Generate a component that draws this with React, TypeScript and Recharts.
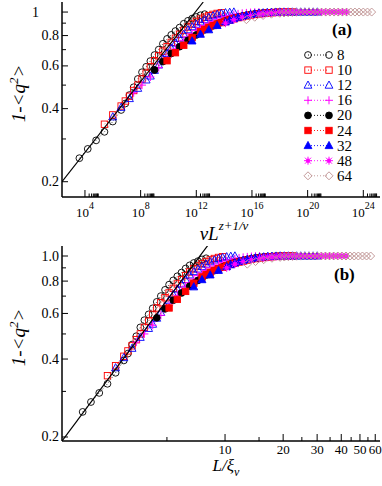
import { ScatterChart, Scatter, XAxis, YAxis, Legend } from 'recharts';

const FONT = 'Liberation Serif, Times New Roman, serif';

// system sizes L
const sizes = ['8', '10', '12', '16', '20', '24', '32', '48', '64'];

// panel (a): x = vL^{z+1/v}, kept as log10 exponents
const expA8 = [3.6, 4.2, 4.8, 5.4, 6.0, 6.6, 6.9, 7.2, 7.5, 7.8, 8.1, 8.4, 8.7, 9.0, 9.3, 9.6, 9.9, 10.2, 10.5, 10.8, 11.1, 11.4, 11.7, 12.0, 12.3, 12.6];
const expA10 = [5.4, 6.0, 6.6, 6.9, 7.2, 7.5, 7.8, 8.1, 8.4, 8.7, 9.0, 9.3, 9.6, 9.9, 10.2, 10.5, 10.8, 11.1, 11.4, 11.7, 12.0, 12.3, 12.6, 12.9, 13.2, 13.5, 13.8];
const expA12 = [6.0, 6.6, 7.2, 7.8, 8.4, 8.7, 9.0, 9.3, 9.6, 9.9, 10.2, 10.5, 10.8, 11.1, 11.4, 11.7, 12.0, 12.3, 12.6, 12.9, 13.2, 13.5, 13.8, 14.1, 14.4, 14.7];
const expA16 = [7.5, 8.1, 8.7, 9.3, 9.9, 10.2, 10.5, 10.8, 11.1, 11.4, 11.7, 12.0, 12.3, 12.6, 12.9, 13.2, 13.5, 13.8, 14.1, 14.4, 14.7, 15.0, 15.3, 15.6, 15.9, 16.2, 16.5];
const expA20 = [9.0, 9.6, 10.2, 10.8, 11.4, 11.7, 12.0, 12.3, 12.6, 12.9, 13.2, 13.5, 13.8, 14.1, 14.4, 14.7, 15.0, 15.3, 15.6, 15.9, 16.2, 16.5, 16.8, 17.1, 17.4, 17.7, 18.0];
const expA24 = [9.9, 10.5, 11.1, 11.7, 12.3, 12.6, 12.9, 13.2, 13.5, 13.8, 14.1, 14.4, 14.7, 15.0, 15.3, 15.6, 15.9, 16.2, 16.5, 16.8, 17.1, 17.4, 17.7, 18.0, 18.3, 18.6, 18.9];
const expA32 = [11.7, 12.3, 12.9, 13.5, 14.1, 14.4, 14.7, 15.0, 15.3, 15.6, 15.9, 16.2, 16.5, 16.8, 17.1, 17.4, 17.7, 18.0, 18.3, 18.6, 18.9, 19.2, 19.5, 19.8, 20.1, 20.4, 20.7];
const expA48 = [14.1, 14.7, 15.3, 15.9, 16.5, 16.8, 17.1, 17.4, 17.7, 18.0, 18.3, 18.6, 18.9, 19.2, 19.5, 19.8, 20.1, 20.4, 20.7, 21.0, 21.3, 21.6, 21.9, 22.2, 22.5, 22.8];
const expA64 = [15.6, 16.2, 16.8, 17.4, 18.0, 18.3, 18.6, 18.9, 19.2, 19.5, 19.8, 20.1, 20.4, 20.7, 21.0, 21.3, 21.6, 21.9, 22.2, 22.5, 22.8, 23.1, 23.4, 23.7, 24.0, 24.3, 24.6];

// panel (b): x = L/xi_v
const xB8 = [1.83, 2.02, 2.23, 2.46, 2.71, 2.99, 3.14, 3.30, 3.47, 3.64, 3.82, 4.02, 4.22, 4.43, 4.65, 4.89, 5.13, 5.39, 5.66, 5.95, 6.25, 6.56, 6.89, 7.24, 7.60, 7.98];
const xB10 = [2.46, 2.71, 2.99, 3.14, 3.30, 3.47, 3.64, 3.82, 4.02, 4.22, 4.43, 4.65, 4.89, 5.13, 5.39, 5.66, 5.95, 6.25, 6.56, 6.89, 7.24, 7.60, 7.98, 8.38, 8.80, 9.25, 9.71];
const xB12 = [2.71, 2.99, 3.30, 3.64, 4.02, 4.22, 4.43, 4.65, 4.89, 5.13, 5.39, 5.66, 5.95, 6.25, 6.56, 6.89, 7.24, 7.60, 7.98, 8.38, 8.80, 9.25, 9.71, 10.20, 10.71, 11.25];
const xB16 = [3.47, 3.82, 4.22, 4.65, 5.13, 5.39, 5.66, 5.95, 6.25, 6.56, 6.89, 7.24, 7.60, 7.98, 8.38, 8.80, 9.25, 9.71, 10.20, 10.71, 11.25, 11.82, 12.41, 13.04, 13.69, 14.38, 15.10];
const xB20 = [4.43, 4.89, 5.39, 5.95, 6.56, 6.89, 7.24, 7.60, 7.98, 8.38, 8.80, 9.25, 9.71, 10.20, 10.71, 11.25, 11.82, 12.41, 13.04, 13.69, 14.38, 15.10, 15.86, 16.66, 17.50, 18.38, 19.30];
const xB24 = [5.13, 5.66, 6.25, 6.89, 7.60, 7.98, 8.38, 8.80, 9.25, 9.71, 10.20, 10.71, 11.25, 11.82, 12.41, 13.04, 13.69, 14.38, 15.10, 15.86, 16.66, 17.50, 18.38, 19.30, 20.27, 21.29, 22.36];
const xB32 = [6.89, 7.60, 8.38, 9.25, 10.20, 10.71, 11.25, 11.82, 12.41, 13.04, 13.69, 14.38, 15.10, 15.86, 16.66, 17.50, 18.38, 19.30, 20.27, 21.29, 22.36, 23.49, 24.67, 25.91, 27.21, 28.58, 30.02];
const xB48 = [10.20, 11.25, 12.41, 13.69, 15.10, 15.86, 16.66, 17.50, 18.38, 19.30, 20.27, 21.29, 22.36, 23.49, 24.67, 25.91, 27.21, 28.58, 30.02, 31.53, 33.11, 34.78, 36.53, 38.37, 40.30, 42.32];
const xB64 = [13.04, 14.38, 15.86, 17.50, 19.30, 20.27, 21.29, 22.36, 23.49, 24.67, 25.91, 27.21, 28.58, 30.02, 31.53, 33.11, 34.78, 36.53, 38.37, 40.30, 42.32, 44.45, 46.69, 49.04, 51.50, 54.09, 56.81];

// 1-<q^2>, same points in both panels
const y8 = [0.25, 0.273, 0.296, 0.321, 0.354, 0.395, 0.42, 0.455, 0.49, 0.53, 0.565, 0.595, 0.628, 0.665, 0.70, 0.74, 0.775, 0.805, 0.835, 0.863, 0.895, 0.92, 0.94, 0.955, 0.97, 0.98];
const y10 = [0.345, 0.377, 0.41, 0.43, 0.45, 0.475, 0.50, 0.53, 0.56, 0.595, 0.63, 0.66, 0.69, 0.72, 0.75, 0.78, 0.81, 0.84, 0.868, 0.893, 0.915, 0.935, 0.952, 0.966, 0.978, 0.987, 0.993];
const y12 = [0.37, 0.405, 0.44, 0.485, 0.525, 0.545, 0.575, 0.605, 0.64, 0.675, 0.71, 0.745, 0.78, 0.81, 0.845, 0.87, 0.89, 0.91, 0.93, 0.95, 0.965, 0.978, 0.987, 0.993, 0.997, 1.0];
const y16 = [0.465, 0.5, 0.54, 0.59, 0.645, 0.675, 0.705, 0.735, 0.765, 0.79, 0.815, 0.84, 0.86, 0.88, 0.9, 0.915, 0.93, 0.945, 0.957, 0.967, 0.976, 0.983, 0.988, 0.992, 0.995, 0.998, 1.0];
const y20 = [0.577, 0.625, 0.675, 0.72, 0.765, 0.785, 0.805, 0.825, 0.845, 0.862, 0.878, 0.893, 0.907, 0.92, 0.932, 0.943, 0.953, 0.962, 0.97, 0.977, 0.983, 0.988, 0.992, 0.995, 0.997, 0.999, 1.0];
const y24 = [0.63, 0.68, 0.73, 0.785, 0.83, 0.848, 0.865, 0.88, 0.893, 0.905, 0.917, 0.928, 0.938, 0.948, 0.956, 0.964, 0.971, 0.977, 0.982, 0.987, 0.991, 0.994, 0.996, 0.998, 0.999, 1.0, 1.0];
const y32 = [0.76, 0.81, 0.845, 0.88, 0.91, 0.925, 0.94, 0.952, 0.962, 0.97, 0.977, 0.983, 0.988, 0.992, 0.995, 0.997, 0.999, 1, 1, 1, 1, 1, 1, 1, 1, 1, 1];
const y48 = [0.9, 0.93, 0.952, 0.968, 0.98, 0.985, 0.989, 0.992, 0.995, 0.997, 0.998, 0.999, 1, 1, 1, 1, 1, 1, 1, 1, 1, 1, 1, 1, 1, 1];
const y64 = [0.93, 0.952, 0.968, 0.98, 0.988, 0.991, 0.994, 0.996, 0.998, 0.999, 1, 1, 1, 1, 1, 1, 1, 1, 1, 1, 1, 1, 1, 1, 1, 1, 1];

// black power-law guide lines
const fitAExp = [2.35, 12.5];
const fitAY = [0.2, 1.1];
const fitBX = [1.43, 8.15];
const fitBY = [0.193, 1.1];

// ticks
const yTicks = [0.2, 0.3, 0.4, 0.5, 0.6, 0.7, 0.8, 0.9, 1];
const majorExpA = [4, 8, 12, 16, 20, 24];
const ticksB = [5, 10, 15, 20, 25, 30, 35, 40, 45, 50, 55, 60];

const ticksA = majorExpA.flatMap(p => [1, 2, 3, 4, 5, 6, 7, 8, 9].map(m => m * 10 ** p));

const styles = [
  { color: '#000000', kind: 'circle', filled: false },
  { color: '#ff0000', kind: 'square', filled: false },
  { color: '#0000ff', kind: 'triangle', filled: false },
  { color: '#ff00ff', kind: 'plus', filled: false },
  { color: '#000000', kind: 'circle', filled: true },
  { color: '#ff0000', kind: 'square', filled: true },
  { color: '#0000ff', kind: 'triangle', filled: true },
  { color: '#ff00ff', kind: 'star', filled: true },
  { color: '#bc8f8f', kind: 'diamond', filled: false },
];

const expA = [expA8, expA10, expA12, expA16, expA20, expA24, expA32, expA48, expA64];
const xB = [xB8, xB10, xB12, xB16, xB20, xB24, xB32, xB48, xB64];
const ys = [y8, y10, y12, y16, y20, y24, y32, y48, y64];

const series = sizes.map((name, i) => ({
  name,
  ...styles[i],
  a: expA[i].map((e, j) => ({ x: 10 ** e, y: ys[i][j] })),
  b: xB[i].map((x, j) => ({ x, y: ys[i][j] })),
}));

const fitA = fitAExp.map((e, j) => ({ x: 10 ** e, y: fitAY[j] }));
const fitB = fitBX.map((x, j) => ({ x, y: fitBY[j] }));

const axisStyle = { stroke: '#000', strokeWidth: 1.5 };
const frameStyle = { stroke: '#777', strokeWidth: 1.2 };

function Marker({ cx, cy, kind, filled, color }: any) {
  if (cx == null || cy == null) return <g />;
  const fill = filled ? color : 'none';
  const sw = 0.9;
  switch (kind) {
    case 'circle':
      return <circle cx={cx} cy={cy} r={3.4} fill={fill} stroke={color} strokeWidth={sw} />;
    case 'square':
      return <rect x={cx - 3.2} y={cy - 3.2} width={6.4} height={6.4} fill={fill} stroke={color} strokeWidth={sw} />;
    case 'triangle':
      return <polygon points={`${cx},${cy - 4.2} ${cx - 3.9},${cy + 3} ${cx + 3.9},${cy + 3}`} fill={fill} stroke={color} strokeWidth={sw} />;
    case 'plus':
      return <path d={`M${cx - 4},${cy}H${cx + 4}M${cx},${cy - 4}V${cy + 4}`} stroke={color} strokeWidth={1} />;
    case 'star':
      return (
        <g stroke={color} strokeWidth={1}>
          <path d={`M${cx - 4},${cy}H${cx + 4}M${cx},${cy - 4}V${cy + 4}M${cx - 3},${cy - 3}L${cx + 3},${cy + 3}M${cx - 3},${cy + 3}L${cx + 3},${cy - 3}`} />
          <circle cx={cx} cy={cy} r={1.6} fill={color} />
        </g>
      );
    case 'diamond':
      return <polygon points={`${cx},${cy - 4} ${cx + 4},${cy} ${cx},${cy + 4} ${cx - 4},${cy}`} fill={fill} stroke={color} strokeWidth={sw} />;
    default:
      return <g />;
  }
}

function TickA(props: any) {
  const { x, y, payload } = props;
  const p = Math.log10(payload.value);
  const major = Math.abs(p - Math.round(p)) < 1e-6 && majorExpA.includes(Math.round(p));
  return (
    <g>
      <line x1={x} x2={x} y1={y} y2={y - (major ? 7 : 3.5)} stroke="#000" strokeWidth={1} />
      {major && (
        <text x={x} y={y + 20} textAnchor="middle" fontSize={13} fontFamily={FONT} fill="#000">
          10<tspan dy={-8} fontSize={10}>{Math.round(p)}</tspan>
        </text>
      )}
    </g>
  );
}

function TickB(props: any) {
  const { x, y, payload } = props;
  const v = payload.value;
  const major = v % 10 === 0;
  return (
    <g>
      <line x1={x} x2={x} y1={y} y2={y - (major ? 7 : 4)} stroke="#000" strokeWidth={1} />
      {major && (
        <text x={x} y={y + 12.5} textAnchor="middle" fontSize={13} fontFamily={FONT} fill="#000">
          {v}
        </text>
      )}
    </g>
  );
}

function YTick(props: any) {
  const { x, y, payload, one } = props;
  const v = payload.value;
  const major = Math.abs(v * 5 - Math.round(v * 5)) < 1e-6;
  const label = v === 1 ? one : v.toFixed(1);
  const shift = v === 1 && one === '1' ? 20 : 0;
  return (
    <g>
      <line x1={x} x2={x + (major ? 6 : 4)} y1={y} y2={y} stroke="#000" strokeWidth={1} />
      {major && (
        <text x={x - 3 - shift} y={y + 4.5} textAnchor="end" fontSize={14} fontFamily={FONT} fill="#000">
          {label}
        </text>
      )}
    </g>
  );
}

function YTitle(props: any) {
  const vb = props.viewBox || { x: 0, y: 0, width: 62, height: 195 };
  const cx = vb.x + 25;
  const cy = vb.y + vb.height / 2 - 6;
  return (
    <text transform={`rotate(-90 ${cx} ${cy})`} x={cx} y={cy} textAnchor="middle" fontStyle="italic" fontSize={19} fontFamily={FONT} fill="#000">
      1-&lt;q<tspan dy={-7} fontSize={13}>2</tspan><tspan dy={7}>&gt;</tspan>
    </text>
  );
}

function XTitleA(props: any) {
  const vb = props.viewBox || { x: 62, y: 197, width: 318, height: 49 };
  return (
    <text x={vb.x + vb.width / 2 + 3} y={vb.y + 43} textAnchor="middle" fontStyle="italic" fontSize={19} fontFamily={FONT} fill="#000">
      νL<tspan dy={-10} fontSize={13}>z+1/ν</tspan>
    </text>
  );
}

function XTitleB(props: any) {
  const vb = props.viewBox || { x: 62, y: 441, width: 318, height: 45 };
  return (
    <text x={vb.x + vb.width / 2 + 5} y={vb.y + 30} textAnchor="middle" fontStyle="italic" fontSize={17} fontFamily={FONT} fill="#000">
      L/ξ<tspan dy={5} fontSize={12}>ν</tspan>
    </text>
  );
}

function LegendA() {
  return (
    <svg width={82} height={140} style={{ display: 'block' }}>
      {series.map((s, i) => {
        const cy = 8 + i * 15.1;
        return (
          <g key={s.name}>
            <line x1={8} x2={29} y1={cy} y2={cy} stroke={s.color} strokeWidth={0.9} strokeDasharray="1 2" />
            <Marker cx={8} cy={cy} kind={s.kind} filled={s.filled} color={s.color} />
            <Marker cx={29} cy={cy} kind={s.kind} filled={s.filled} color={s.color} />
            <text x={37} y={cy + 5} fontSize={15} fontFamily={FONT} fill="#000">{s.name}</text>
          </g>
        );
      })}
    </svg>
  );
}

function Panel({ which }: { which: 'a' | 'b' }) {
  const isA = which === 'a';
  return (
    <ScatterChart
      width={382}
      height={246}
      margin={{ top: isA ? 2 : 6, right: 2, bottom: 0, left: 0 }}
    >
      <XAxis
        xAxisId="bottom"
        type="number"
        dataKey="x"
        scale="log"
        domain={isA ? [10 ** 2.35, 10 ** 25.2] : [1.43, 63.5]}
        allowDataOverflow
        ticks={isA ? ticksA : ticksB}
        interval={0}
        tickSize={0}
        tickMargin={0}
        tickLine={false}
        tick={isA ? <TickA /> : <TickB />}
        axisLine={axisStyle}
        height={isA ? 49 : 45}
        label={isA ? <XTitleA /> : <XTitleB />}
      />
      <XAxis xAxisId="top" orientation="top" type="number" domain={[0, 1]} height={0} tick={false} tickLine={false} axisLine={frameStyle} />
      <YAxis
        yAxisId="left"
        type="number"
        dataKey="y"
        scale="log"
        domain={isA ? [0.173, 1.1] : [0.193, 1.093]}
        allowDataOverflow
        ticks={yTicks}
        interval={0}
        tickSize={0}
        tickMargin={0}
        tickLine={false}
        tick={<YTick one={isA ? '1' : '1.0'} />}
        axisLine={axisStyle}
        width={62}
        label={<YTitle />}
      />
      <YAxis yAxisId="right" orientation="right" type="number" domain={[0, 1]} width={0} tick={false} tickLine={false} axisLine={frameStyle} />
      {series.map(s => (
        <Scatter
          key={s.name}
          name={s.name}
          xAxisId="bottom"
          yAxisId="left"
          data={isA ? s.a : s.b}
          isAnimationActive={false}
          line={{ stroke: s.color, strokeWidth: 0.8, strokeDasharray: '1 2' }}
          lineType="joint"
          shape={(p: any) => <Marker cx={p.cx} cy={p.cy} kind={s.kind} filled={s.filled} color={s.color} />}
        />
      ))}
      <Scatter
        name="fit"
        xAxisId="bottom"
        yAxisId="left"
        data={isA ? fitA : fitB}
        isAnimationActive={false}
        line={{ stroke: '#000', strokeWidth: 1.2 }}
        lineType="joint"
        shape={() => <g />}
      />
      {isA && (
        <Legend
          layout="vertical"
          align="center"
          verticalAlign="middle"
          wrapperStyle={{ left: 300, top: 47, width: 82 }}
          content={() => <LegendA />}
        />
      )}
    </ScatterChart>
  );
}

const tagStyle = {
  position: 'absolute' as const,
  zIndex: 10,
  fontFamily: FONT,
  fontWeight: 'bold' as const,
  fontSize: 17,
  lineHeight: '20px',
  color: '#000',
};

export default function App() {
  return (
    <div style={{ position: 'absolute', left: 0, top: 0, width: 382, height: 486, background: '#fff' }}>
      <div style={{ position: 'absolute', left: 0, top: 0 }}>
        <Panel which="a" />
      </div>
      <div style={{ position: 'absolute', left: 0, top: 240 }}>
        <Panel which="b" />
      </div>
      <div style={{ ...tagStyle, left: 332, top: 20 }}>(a)</div>
      <div style={{ ...tagStyle, left: 334, top: 265 }}>(b)</div>
    </div>
  );
}
